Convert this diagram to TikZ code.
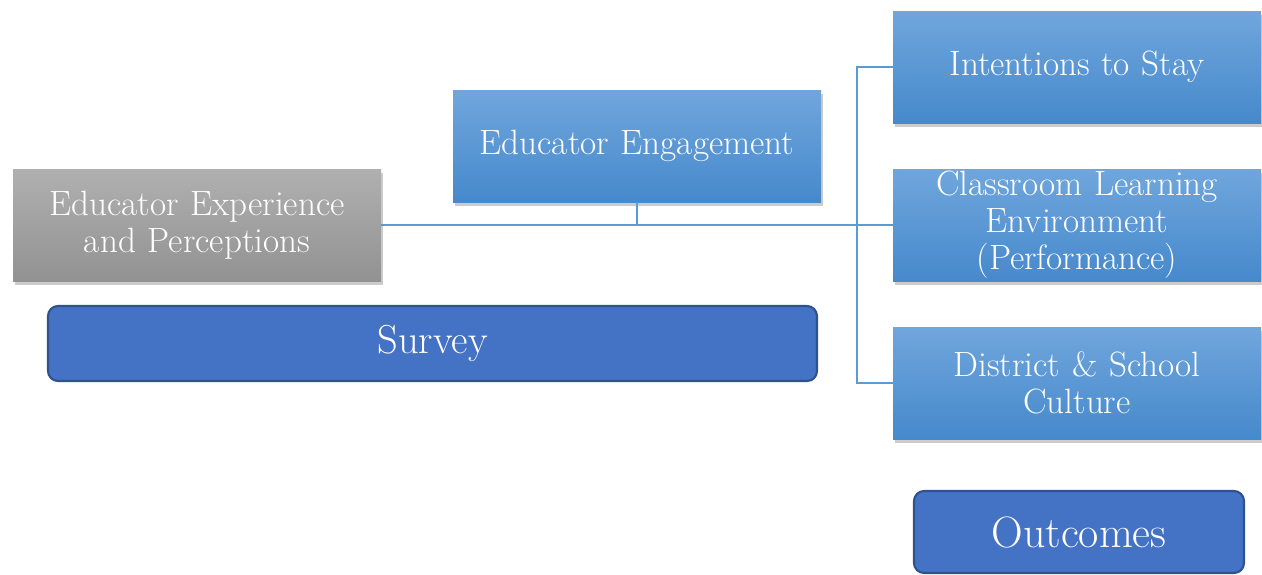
\documentclass[tikz,border=0pt]{standalone}
\usetikzlibrary{shadows}

\definecolor{blauhell}{HTML}{70A6DC}
\definecolor{blaudunkel}{HTML}{4689CC}
\definecolor{grauhell}{HTML}{B0B0B0}
\definecolor{graudunkel}{HTML}{929292}
\definecolor{balken}{HTML}{4472C4}
\definecolor{balkenrand}{HTML}{2F528F}
\definecolor{linie}{HTML}{5B9BD5}

\def\kasten#1#2#3{
	\node[kasten] (#1) at #2 {#3};
}

\begin{document}
\begin{tikzpicture}[
	kasten/.style={minimum width=7.36cm,minimum height=2.24cm,text width=7.2cm,align=center,
		inner sep=0pt,top color=blauhell,bottom color=blaudunkel,text=white,
		font=\fontsize{20}{21}\selectfont,
		drop shadow={shadow xshift=0.04cm,shadow yshift=-0.08cm,opacity=0.4}},
	grau/.style={top color=grauhell,bottom color=graudunkel},
	balken/.style={draw=balkenrand,line width=1.2pt,fill=balken,rounded corners=0.2cm,
		text=white,align=center,font=\fontsize{23}{25}\selectfont},
	kante/.style={draw=linie,line width=1.5pt}]
\useasboundingbox (0,0) rectangle (25.24,-11.48);
\coordinate (J) at (17.14,-4.5);
% Kaesten
\node[kasten,grau] (exp) at (3.94,-4.5) {Educator Experience\\and Perceptions};
\kasten{eng}{(12.74,-2.92)}{Educator Engagement}
\kasten{stay}{(21.54,-1.34)}{Intentions to Stay}
\kasten{cls}{(21.54,-4.5)}{Classroom Learning\\Environment\\(Performance)}
\kasten{cult}{(21.54,-7.66)}{District \& School\\Culture}
% Linien
\draw[kante] (exp.east) -- (cls.west);
\draw[kante] (eng.south) -- (eng.south |- J);
\draw[kante] (stay.west) -| (J) |- (cult.west);
% Balken
\node[balken,minimum width=15.38cm,minimum height=1.5cm] (survey) at (8.65,-6.87) {Survey};
\node[balken,minimum width=6.6cm,minimum height=1.64cm,font=\fontsize{25}{27}\selectfont] (out) at (21.58,-10.64) {Outcomes};
\end{tikzpicture}
\end{document}
